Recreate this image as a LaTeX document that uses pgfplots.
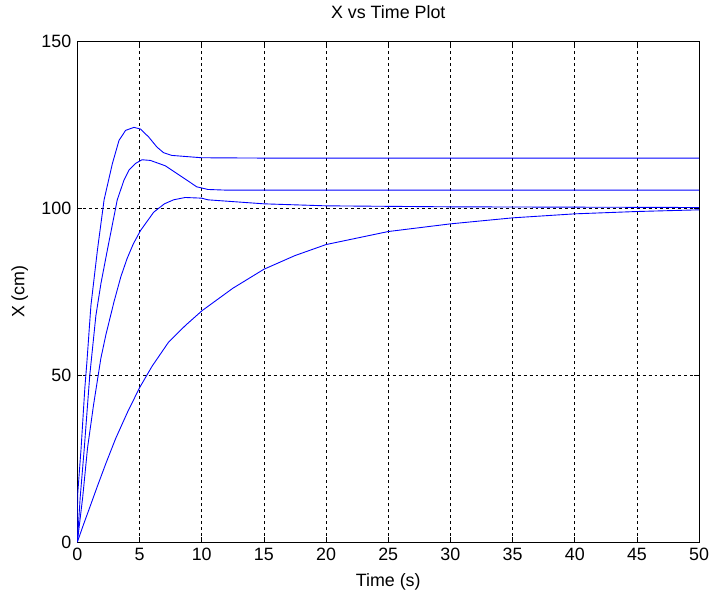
\documentclass[border=0pt]{standalone}
\usepackage{fontspec}
\setmainfont{Liberation Sans}
\usepackage{pgfplots}
\pgfplotsset{compat=1.18}
\begin{document}
\fontsize{18}{21}\selectfont
\begin{tikzpicture}
\begin{axis}[
  scale only axis, width=627pt, height=505pt,
  xmin=0, xmax=50, ymin=0, ymax=150,
  xtick={0,5,...,50}, ytick={0,50,100,150},
  grid=major,
  grid style={black, dash pattern=on 3pt off 3pt, line width=0.6pt},
  tick align=inside, major tick length=5pt,
  tick style={black, line width=0.6pt},
  axis line style={black, line width=0.8pt},
  /pgf/number format/assume math mode=true,
  tick label style={font=\fontsize{18}{21}\selectfont},
  title={X vs Time Plot},
  title style={at={(axis description cs:0.5,1.0455)}, anchor=center},
  xlabel={Time (s)},
  xlabel style={at={(axis description cs:0.5,-0.0792)}, anchor=center},
  ylabel={X (cm)},
  ylabel style={at={(axis description cs:-0.0925,0.5)}, anchor=center},
]
\tikzset{resp/.style={blue, line width=0.9pt, line join=round}}
% fastest response, largest overshoot
\addplot[resp] coordinates {
  (0,0) (0.02,14) (0.3,28) (0.6,46) (0.77,54) (1.09,70.8) (1.62,87.6)
  (2.15,102.5) (2.82,113.4) (3.35,120.3) (3.88,123.3) (4.55,124.2)
  (5.08,123.7) (5.74,121.3) (6.4,118.3) (6.94,116.6) (7.6,115.8)
  (10,115.1) (15,115) (50,115)
};
% second response
\addplot[resp] coordinates {
  (0,0) (0.23,13.4) (0.56,28.2) (1.0,50) (1.49,67.8) (1.9,77.5)
  (2.42,87.6) (3.21,102.5) (3.75,108.4) (4.15,111.4) (4.68,113.4)
  (5.2,114.5) (5.87,114.3) (7.07,112.7) (8.4,109.4) (9.6,106.4)
  (10.5,105.6) (12,105.4) (50,105.4)
};
% third response, small overshoot
\addplot[resp] coordinates {
  (0,0) (0.43,13.4) (0.82,28.2) (1.3,41) (1.89,55) (2.29,62)
  (2.95,72) (3.5,79.5) (4.01,85) (4.5,89.3) (5.08,93.3) (6.14,98.8)
  (7.0,101.3) (7.74,102.5) (8.67,103.2) (10,103) (10.5,102.5)
  (15,101.3) (20,100.7) (30,100.4) (50,100.2)
};
% slow first-order-like response
\addplot[resp] coordinates {
  (0,0) (0.5,5.3) (1,10.4) (1.62,16.8) (2.29,23.5) (3.08,31)
  (4.01,38.7) (5,46.2) (6,52.6) (7.34,59.9) (8.7,64.9) (10.03,69.3)
  (12.5,76) (15,81.7) (17.5,85.8) (20,89.1) (25,93) (30,95.3)
  (35,97.1) (40,98.3) (45,99) (50,99.5)
};
\end{axis}
\path ([xshift=-78pt,yshift=-58pt]current axis.south west)
  rectangle ([xshift=10pt,yshift=40pt]current axis.north east);
\end{tikzpicture}
\end{document}
